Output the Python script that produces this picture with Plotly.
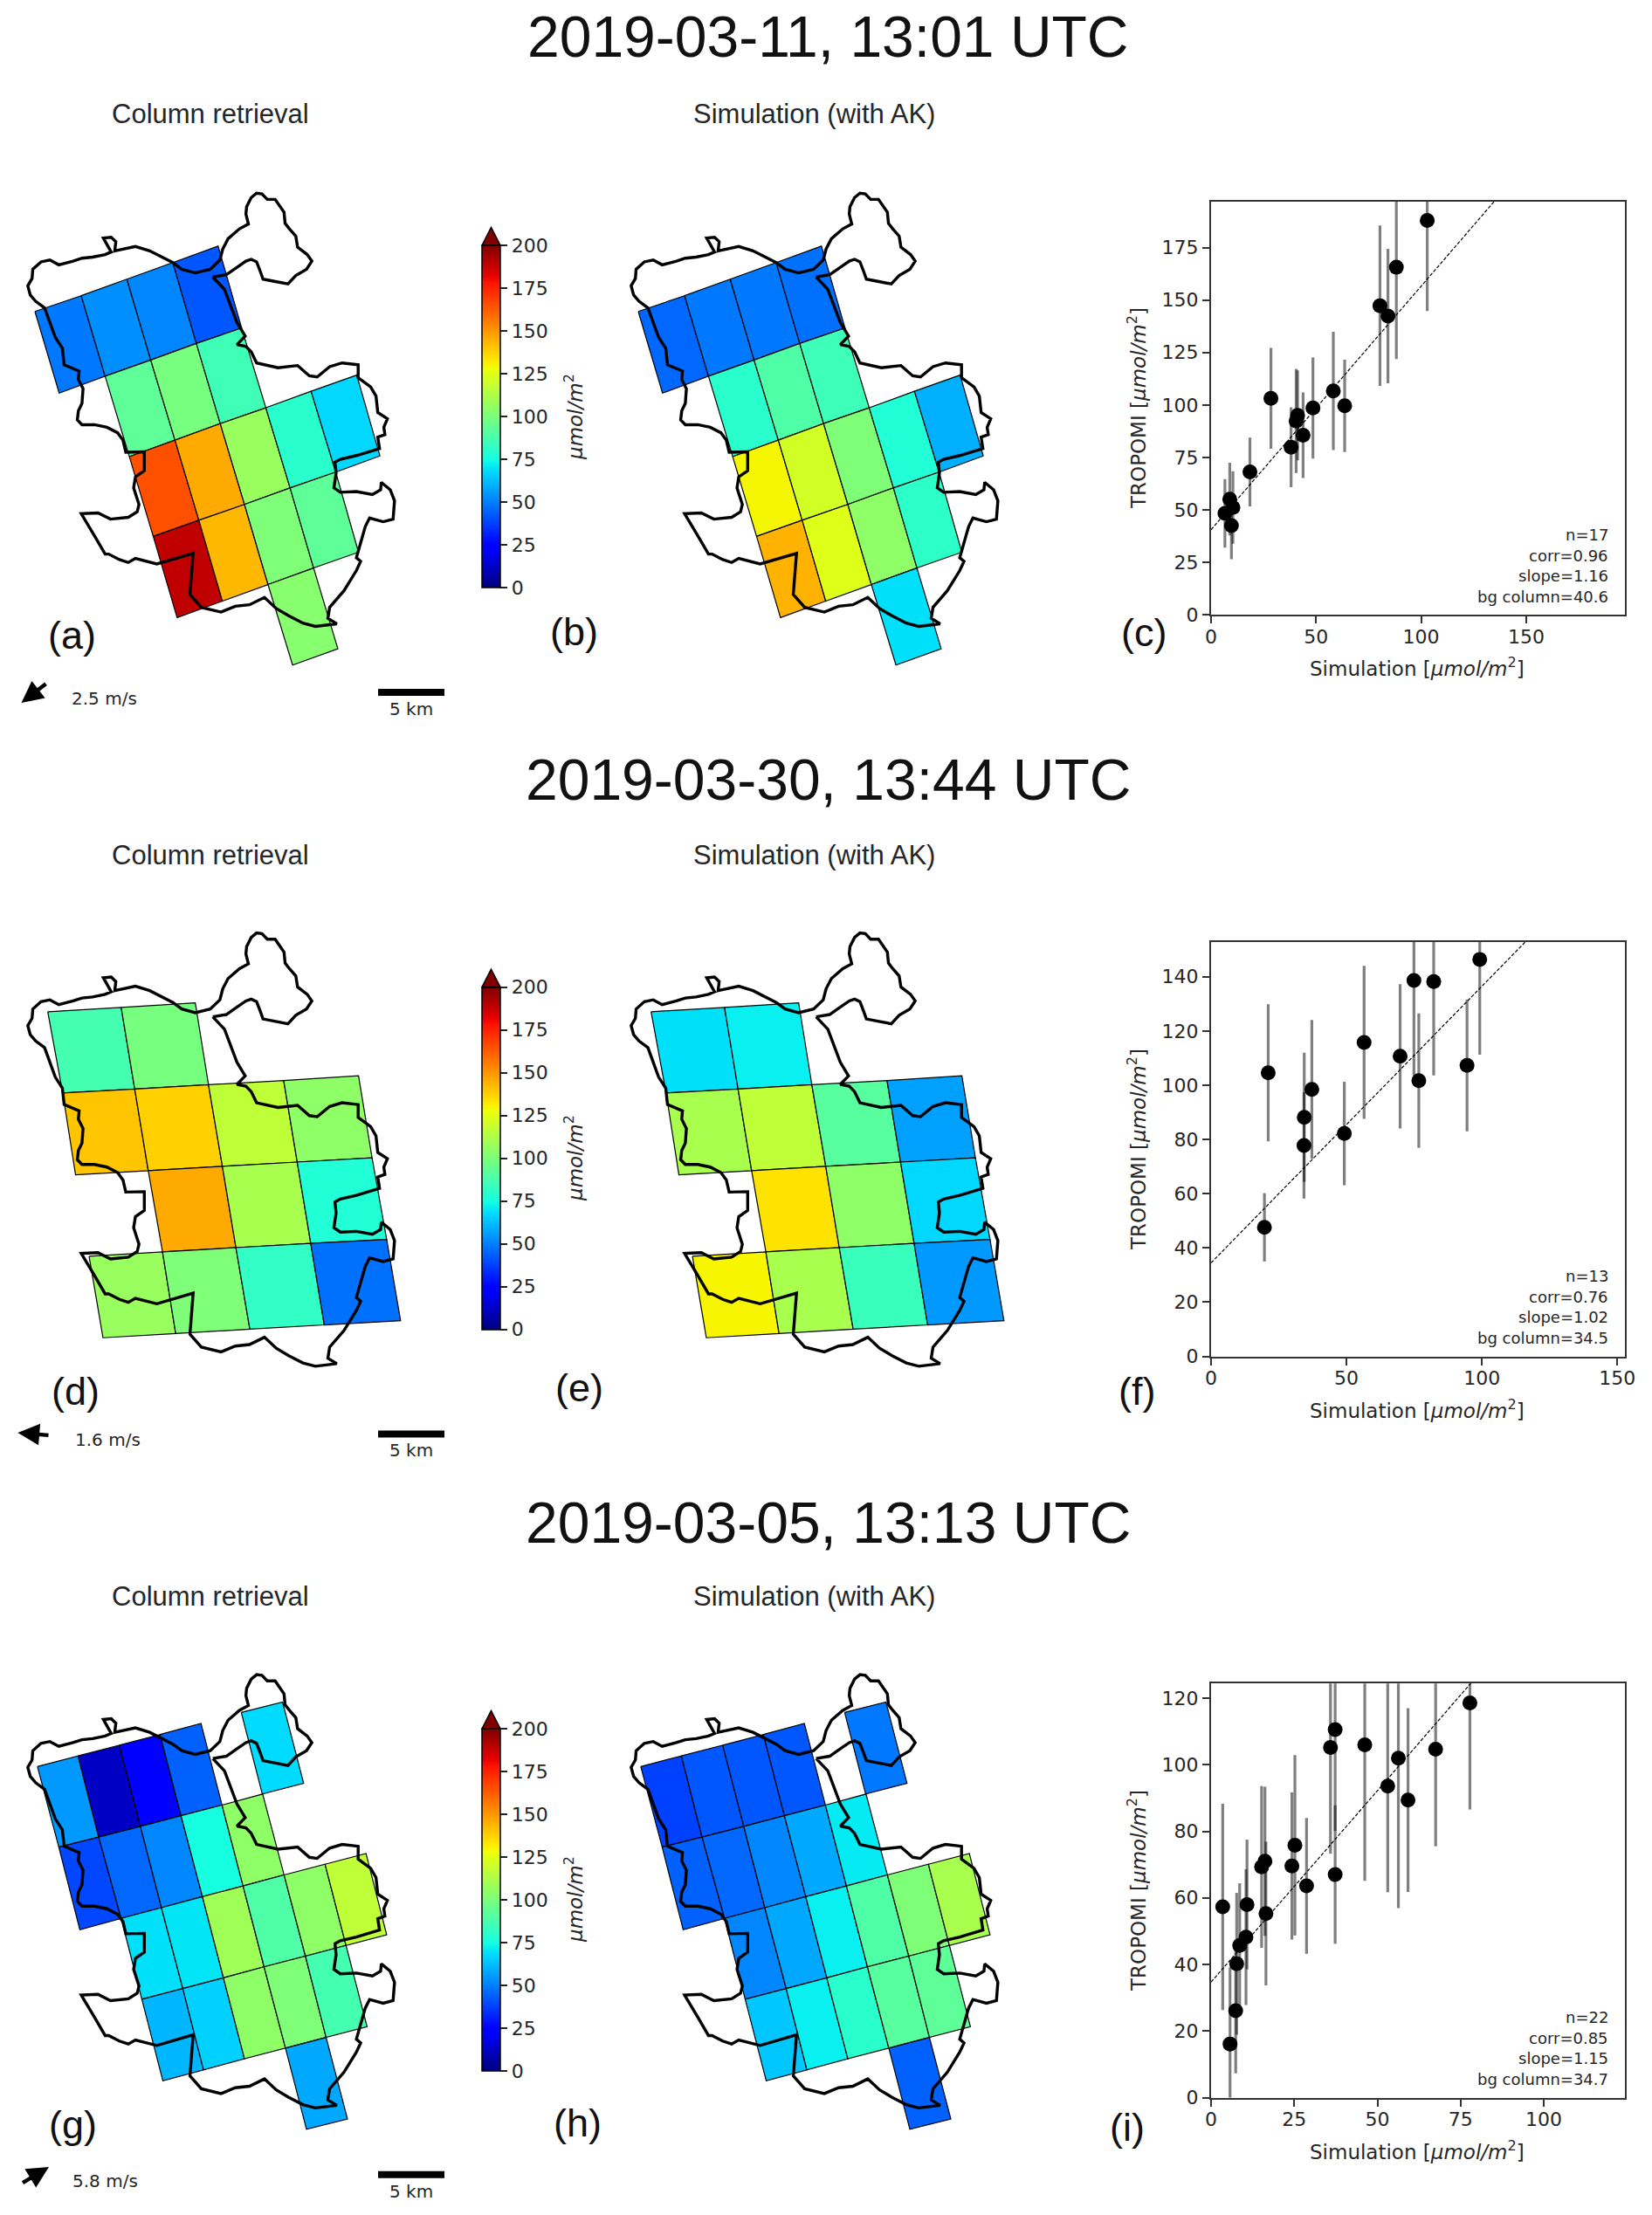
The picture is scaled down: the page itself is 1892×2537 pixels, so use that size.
import plotly.graph_objects as go
from plotly.colors import sample_colorscale

WIDTH = 1892
HEIGHT = 2537

# jet colormap, value range 0-200
JET_STOPS = [0, 0.11, 0.125, 0.34, 0.35, 0.375, 0.64, 0.65, 0.66, 0.89, 0.91, 1]
JET_COLORS = ['rgb(0,0,128)', 'rgb(0,0,255)', 'rgb(0,0,255)', 'rgb(0,219,255)', 'rgb(0,230,247)', 'rgb(20,255,226)',
              'rgb(238,255,8)', 'rgb(247,245,0)', 'rgb(255,236,0)', 'rgb(255,19,0)', 'rgb(232,0,0)', 'rgb(128,0,0)']

# catchment outline, map units (2.45 units = 1 px, 186 units = 5 km)
OUTLINE_X = [597, 635, 660, 690, 705, 720, 730, 738, 770, 808, 830, 860, 875, 862, 835, 830, 812, 800, 797, 778,
             772, 750, 735, 720, 705, 692, 690, 697, 672, 640, 625, 617, 590, 548, 510, 485, 455, 420, 380, 350,
             322, 325, 312, 290, 305, 312, 295, 260, 230, 205, 165, 140, 115, 92, 90, 78, 85, 100, 125, 140,
             155, 175, 180, 222, 220, 233, 230, 220, 217, 230, 265, 300, 330, 345, 353, 405, 405, 380, 375, 390,
             385, 360, 310, 275, 228, 265, 295, 305, 335, 360, 380, 440, 542, 533, 565, 620, 660, 700, 742, 775,
             810, 850, 885, 945, 920, 925, 965, 1000, 1012, 1000, 1015, 1025, 1037, 1075, 1103, 1107, 1095, 1070, 1068, 1045,
             1000, 955, 937, 943, 940, 955, 1000, 1065, 1060, 1080, 1077, 1087, 1060, 1055, 1040, 1005, 1005, 960, 925, 890,
             868, 835, 780, 720, 705, 690, 665, 688, 665, 650, 630, 597]
OUTLINE_Y = [326, 320, 303, 283, 278, 285, 310, 332, 338, 345, 322, 305, 283, 265, 245, 215, 195, 180, 150, 125,
             115, 115, 100, 98, 110, 135, 155, 182, 195, 222, 250, 280, 305, 315, 305, 287, 272, 255, 243, 250,
             255, 230, 218, 220, 245, 258, 265, 272, 275, 283, 293, 280, 285, 305, 330, 350, 375, 392, 410, 450,
             490, 520, 565, 582, 605, 630, 670, 690, 715, 728, 728, 735, 750, 770, 803, 802, 853, 870, 900, 945,
             965, 980, 985, 968, 970, 1030, 1080, 1080, 1095, 1103, 1092, 1107, 1078, 1190, 1225, 1238, 1222, 1218, 1198, 1228,
             1248, 1268, 1277, 1270, 1255, 1225, 1180, 1125, 1100, 1090, 1040, 1005, 982, 992, 985, 935, 905, 885, 905, 918,
             910, 912, 900, 860, 830, 822, 812, 793, 762, 755, 735, 712, 695, 650, 625, 600, 565, 560, 570, 598,
             595, 567, 573, 560, 530, 515, 510, 487, 450, 410, 360, 326]

# pixel grid corners per scene: rows of (x, y)
GRID_1 = [
    [(98, 420), (228, 377), (356, 332), (485, 287), (612, 242)],
    [(166, 642), (295, 596), (423, 552), (551, 507), (678, 465)],
    [(363, 815), (491, 770), (618, 725), (746, 682), (873, 637), (1001, 593)],
    [(430, 1032), (558, 988), (686, 945), (814, 900), (942, 857), (1066, 813)],
    [(497, 1253), (624, 1208), (752, 1163), (880, 1118), (1006, 1075)],
    [(821, 1382), (948, 1338)],
]
GRID_2 = [
    [(134, 291), (340, 279), (548, 266)],
    [(176, 519), (378, 508), (585, 496), (796, 484), (1006, 471)],
    [(212, 749), (416, 737), (624, 725), (834, 713), (1044, 701)],
    [(250, 977), (456, 965), (662, 953), (872, 941), (1085, 930)],
    [(289, 1206), (493, 1194), (701, 1182), (910, 1170), (1124, 1158)],
]
GRID_3 = [
    [(105, 328), (219, 298), (335, 268), (449, 238), (564, 207)],
    [(165, 554), (277, 526), (394, 496), (508, 466), (623, 436), (737, 405)],
    [(224, 786), (340, 754), (453, 724), (568, 693), (682, 663), (797, 632), (912, 602), (1027, 572)],
    [(398, 981), (513, 951), (627, 921), (741, 890), (857, 860), (971, 830), (1085, 800)],
    [(457, 1210), (571, 1179), (686, 1148), (801, 1118), (915, 1088), (1030, 1058)],
    [(860, 1346), (975, 1317)],
]
STRIP_3 = [(677, 176), (793, 147), (852, 375), (736, 405)]

# each cell: upper row, upper col, lower col (lower row = upper row + 1)
CELLS_1 = [(0, 0, 0), (0, 1, 1), (0, 2, 2), (0, 3, 3),
           (1, 1, 0), (1, 2, 1), (1, 3, 2),
           (2, 0, 0), (2, 1, 1), (2, 2, 2), (2, 3, 3), (2, 4, 4),
           (3, 0, 0), (3, 1, 1), (3, 2, 2), (3, 3, 3),
           (4, 2, 0)]
CELLS_2 = [(0, 0, 0), (0, 1, 1),
           (1, 0, 0), (1, 1, 1), (1, 2, 2), (1, 3, 3),
           (2, 1, 1), (2, 2, 2), (2, 3, 3),
           (3, 0, 0), (3, 1, 1), (3, 2, 2), (3, 3, 3)]
CELLS_3 = [(0, 0, 0), (0, 1, 1), (0, 2, 2), (0, 3, 3),
           (1, 0, 0), (1, 1, 1), (1, 2, 2), (1, 3, 3), (1, 4, 4),
           (2, 1, 0), (2, 2, 1), (2, 3, 2), (2, 4, 3), (2, 5, 4), (2, 6, 5),
           (3, 0, 0), (3, 1, 1), (3, 2, 2), (3, 3, 3), (3, 4, 4),
           (4, 3, 0)]

RETRIEVAL_1 = [48.5, 53, 51.6, 42, 93, 99, 85.5, 165, 146, 107, 80, 67.5, 189, 143, 101, 93, 103]
SIMULATION_1 = [45.5, 48.5, 48.5, 47, 80, 89, 85, 129.6, 121, 101, 78, 59.5, 144, 124, 105, 81, 69]
RETRIEVAL_2 = [87, 99, 140, 138, 116.5, 105, 146, 111, 78, 107, 101, 82, 47]
SIMULATION_2 = [69, 72, 111, 116.5, 91.5, 56.5, 134, 105, 67.5, 130, 111, 84, 55]
RETRIEVAL_3 = [55, 12, 24, 44, 39, 45.5, 51.6, 75.6, 105, 69, 70, 109, 89, 105, 116.5, 61, 66, 105, 101, 87, 58]
SIMULATION_3 = [37.5, 42, 42, 42, 44, 45.5, 51.6, 58, 71, 51.6, 58, 72, 89, 101, 111, 64, 72, 80, 91.5, 93, 44]
STRIP_RETRIEVAL_3 = 68
STRIP_SIMULATION_3 = 48.5

# scatter panels
SIM_C = [6.6, 8.9, 10.4, 9.7, 18.5, 28.5, 38.1, 40.5, 41.2, 43.8, 48.5, 58.2, 63.6, 80.4, 84.2, 88.2, 102.9]
TROPOMI_C = [48.4, 55.2, 51.2, 42.6, 68.1, 103.2, 79.9, 92.4, 95.1, 85.6, 98.6, 106.7, 99.6, 147.3, 142.4, 165.6, 187.9]
ERR_C = [16.3, 17.3, 17.3, 16, 16.4, 24, 19, 24.8, 21.4, 20.4, 24.1, 28.2, 22, 38.2, 32, 43.7, 43.1]
SIM_F = [19.7, 21.1, 34.3, 34.4, 37.2, 49.2, 56.5, 69.8, 74.9, 76.7, 82.2, 94.5, 99.2]
TROPOMI_F = [47.6, 104.6, 77.8, 88.2, 98.5, 82.2, 115.8, 110.7, 138.6, 101.7, 138.2, 107.3, 146.4]
ERR_F = [12.6, 25.3, 19.6, 23.8, 25.6, 19.1, 28.2, 26.6, 35, 24.8, 34.6, 24.3, 35.1]
SIM_I = [3.5, 5.7, 7.4, 7.7, 8.6, 10.5, 10.8, 15.2, 16.2, 16.5, 24.3, 25.2, 28.7, 35.9, 37.3, 37.3, 46.2, 53.1, 56.3, 59.2, 67.5, 77.8]
TROPOMI_I = [57.3, 16.1, 26.1, 40.2, 45.7, 48.2, 58, 69.3, 71, 55.3, 69.6, 75.8, 63.6, 105.2, 110.6, 67, 106, 93.6, 102, 89.4, 104.7, 118.6]
ERR_I = [31, 23, 18.8, 21.3, 18.7, 20.4, 19.5, 24.3, 22.4, 21.6, 22.1, 27.1, 20.4, 31.9, 30.5, 20.8, 40.9, 31.9, 45.1, 27.6, 29.2, 32]

TITLES = ['2019-03-11, 13:01 UTC', '2019-03-30, 13:44 UTC', '2019-03-05, 13:13 UTC']
STATS = [['n=17', 'corr=0.96', 'slope=1.16', 'bg column=40.6'],
         ['n=13', 'corr=0.76', 'slope=1.02', 'bg column=34.5'],
         ['n=22', 'corr=0.85', 'slope=1.15', 'bg column=34.7']]
SLOPES = [1.16, 1.02, 1.15]
INTERCEPTS = [40.6, 34.5, 34.7]
WIND_LABELS = ['2.5 m/s', '1.6 m/s', '5.8 m/s']
CBAR_TICKS = [0, 25, 50, 75, 100, 125, 150, 175, 200]

TEXT = '#262626'
JET = [[s, c] for s, c in zip(JET_STOPS, JET_COLORS)]
UNIT = '<i>\u03bcmol/m</i><sup>2</sup>'
ax_count = 0


def px_x(v):
    return v / WIDTH


def px_y(v):
    return 1 - v / HEIGHT


def note(text, x, y, size=23, font='DejaVu Sans', anchor='center', angle=0, color=TEXT):
    return dict(text=text, x=px_x(x), y=px_y(y), xref='paper', yref='paper', showarrow=False, xanchor=anchor,
                yanchor='middle', textangle=angle, font=dict(family=font, size=size, color=color))


def new_axes(left, right, top, bottom):
    global ax_count
    ax_count += 1
    suffix = '' if ax_count == 1 else str(ax_count)
    layout_x = dict(domain=[px_x(left), px_x(right)], anchor='y' + suffix)
    layout_y = dict(domain=[px_y(bottom), px_y(top)], anchor='x' + suffix)
    return suffix, layout_x, layout_y


def cell_polygons(grid, cells):
    polys = []
    for row, col_top, col_bot in cells:
        polys.append([grid[row][col_top], grid[row][col_top + 1], grid[row + 1][col_bot + 1], grid[row + 1][col_bot]])
    return polys


def add_map(fig, left, top, polys, values, outline_y, cbar=None):
    suffix, xa, ya = new_axes(left, left + 600, top, top + 640)
    xa.update(range=[0, 1470], visible=False, fixedrange=True)
    ya.update(range=[1568, 0], visible=False, fixedrange=True)
    fig.update_layout({'xaxis' + suffix: xa, 'yaxis' + suffix: ya})

    # cell centres carry the value and the colour bar, hidden below the fills
    centre_x = [sum(p[0] for p in poly) / 4 for poly in polys]
    centre_y = [sum(p[1] for p in poly) / 4 for poly in polys]
    marker = dict(size=1, color=values, colorscale=JET, cmin=0, cmax=200, showscale=False)
    if cbar is not None:
        marker.update(showscale=True, colorbar=dict(
            thickness=21, thicknessmode='pixels', len=392, lenmode='pixels',
            x=px_x(552), xanchor='left', xpad=0, y=px_y(cbar), yanchor='top', ypad=0,
            outlinewidth=1.5, outlinecolor='black', ticks='outside', ticklen=8, tickwidth=1.5,
            tickcolor='#222222', tickvals=CBAR_TICKS, tickfont=dict(family='DejaVu Sans', size=22, color=TEXT)))
    fig.add_trace(go.Scatter(x=centre_x, y=centre_y, mode='markers', marker=marker, showlegend=False,
                             xaxis='x' + suffix, yaxis='y' + suffix))

    for poly, val in zip(polys, values):
        xs = [p[0] for p in poly] + [poly[0][0]]
        ys = [p[1] for p in poly] + [poly[0][1]]
        color = sample_colorscale(JET, val / 200)[0]
        fig.add_trace(go.Scatter(x=xs, y=ys, mode='lines', fill='toself', fillcolor=color, showlegend=False,
                                 line=dict(color='black', width=1.2), hoverinfo='skip',
                                 xaxis='x' + suffix, yaxis='y' + suffix))

    fig.add_trace(go.Scatter(x=OUTLINE_X, y=outline_y, mode='lines', showlegend=False, hoverinfo='skip',
                             line=dict(color='black', width=3.4), xaxis='x' + suffix, yaxis='y' + suffix))
    return suffix


def add_scatter(fig, top, bottom, x_max, x_ticks, y_ticks, sim, obs, err, slope, intercept):
    suffix, xa, ya = new_axes(1387, 1861, top, bottom)
    common = dict(showline=True, linewidth=2, linecolor='#333333', mirror=True, showgrid=False, zeroline=False,
                  ticks='outside', ticklen=8, tickwidth=1.6, tickcolor='#333333', fixedrange=True,
                  tickfont=dict(family='DejaVu Sans', size=22, color=TEXT))
    xa.update(common, range=[0, x_max], tickvals=x_ticks, ticklabelstandoff=-4)
    ya.update(common, range=[0, x_max], tickvals=y_ticks)
    fig.update_layout({'xaxis' + suffix: xa, 'yaxis' + suffix: ya})
    fig.add_trace(go.Scatter(x=[0, x_max], y=[intercept, intercept + slope * x_max], mode='lines', showlegend=False,
                             line=dict(color='black', width=1.2, dash='4px,2px'), xaxis='x' + suffix, yaxis='y' + suffix))
    fig.add_trace(go.Scatter(x=sim, y=obs, mode='markers', showlegend=False,
                             marker=dict(color='black', size=17),
                             error_y=dict(type='data', array=err, color='rgba(0,0,0,0.5)', thickness=3.2, width=0),
                             xaxis='x' + suffix, yaxis='y' + suffix))


def to_scene_y(v):
    # scene 1 was read on a slightly different vertical scale
    return v * 660 / 640 - 31


fig = go.Figure()

OUTLINE_MAP_Y = [to_scene_y(v) for v in OUTLINE_Y]
GRID_1_MAP = [[(x, to_scene_y(y)) for x, y in row] for row in GRID_1]
polys_1 = cell_polygons(GRID_1_MAP, CELLS_1)
polys_2 = cell_polygons(GRID_2, CELLS_2)
polys_3 = [STRIP_3] + cell_polygons(GRID_3, CELLS_3)

MAP_TOPS = [192.65, 1040, 1889.5]
CBAR_TOPS = [281, 1130.6, 1980]
SCENES = [(polys_1, RETRIEVAL_1, SIMULATION_1),
          (polys_2, RETRIEVAL_2, SIMULATION_2),
          (polys_3, [STRIP_RETRIEVAL_3] + RETRIEVAL_3, [STRIP_SIMULATION_3] + SIMULATION_3)]

for i, (polys, retrieval, simulation) in enumerate(SCENES):
    add_map(fig, 0, MAP_TOPS[i], polys, retrieval, OUTLINE_MAP_Y, cbar=CBAR_TOPS[i])
    add_map(fig, 691, MAP_TOPS[i], polys, simulation, OUTLINE_MAP_Y)

add_scatter(fig, 230.6, 704.4, 197, [0, 50, 100, 150], [0, 25, 50, 75, 100, 125, 150, 175],
            SIM_C, TROPOMI_C, ERR_C, SLOPES[0], INTERCEPTS[0])
add_scatter(fig, 1079, 1553.6, 152.8, [0, 50, 100, 150], [0, 20, 40, 60, 80, 100, 120, 140],
            SIM_F, TROPOMI_F, ERR_F, SLOPES[1], INTERCEPTS[1])
add_scatter(fig, 1928.3, 2402.5, 124.4, [0, 25, 50, 75, 100], [0, 20, 40, 60, 80, 100, 120],
            SIM_I, TROPOMI_I, ERR_I, SLOPES[2], INTERCEPTS[2])

notes = []
shapes = []
ROW_TOPS = [0, 849, 1698]
TITLE_Y = [42, 893, 1744]
for i, top in enumerate(ROW_TOPS):
    notes.append(note(TITLES[i], 949, TITLE_Y[i], size=66, font='Liberation Sans', color='#111111'))
    notes.append(note('Column retrieval', 241, 131 + top, size=31, font='Liberation Sans'))
    notes.append(note('Simulation (with AK)', 932, 131 + top, size=31, font='Liberation Sans'))
    notes.append(note(UNIT, 657, 478 + top, angle=-90))
    notes.append(note('Simulation [' + UNIT + ']', 1623, 764.5 + top))
    notes.append(note('TROPOMI [' + UNIT + ']', 1302, 468 + top, angle=-90))
    for j, line in enumerate(STATS[i]):
        notes.append(note(line, 1844, 612.5 + top + 23.6 * j, size=18, anchor='right'))
    shapes.append(dict(type='path', xref='paper', yref='paper', fillcolor='#800000',
                       line=dict(color='black', width=1.5),
                       path='M %f %f L %f %f L %f %f Z' % (px_x(552), px_y(CBAR_TOPS[i]), px_x(562.5),
                                                           px_y(CBAR_TOPS[i] - 20.5), px_x(573), px_y(CBAR_TOPS[i]))))

PANEL_LABELS = ['(a)', '(b)', '(c)', '(d)', '(e)', '(f)', '(g)', '(h)', '(i)']
LABEL_X = [82, 657, 1310, 86.5, 663, 1302, 83, 661, 1291]
LABEL_Y = [727, 723, 725, 1593, 1589, 1593, 2433, 2431, 2436]
for lab, x, y in zip(PANEL_LABELS, LABEL_X, LABEL_Y):
    notes.append(note(lab, x, y, size=45, font='Liberation Sans', color='#111111'))

# wind arrows: tail and head, then label
WIND_TAIL = [(54, 782), (57, 1644), (24.5, 2501)]
WIND_HEAD = [(24.5, 805), (20.4, 1641), (56, 2482)]
WIND_TEXT = [(80, 799.5), (83.7, 1649), (81, 2498)]
for tail, head, pos, lab in zip(WIND_TAIL, WIND_HEAD, WIND_TEXT, WIND_LABELS):
    notes.append(dict(x=px_x(head[0]), y=px_y(head[1]), ax=tail[0] - head[0], ay=tail[1] - head[1], xref='paper',
                      yref='paper', axref='pixel', ayref='pixel', text='', showarrow=True, arrowhead=2, arrowsize=1.1,
                      arrowwidth=4.5, arrowcolor='black', standoff=0))
    notes.append(note(lab, pos[0], pos[1], size=20, anchor='left'))

# 5 km scale bars are drawn on the map axes of the retrieval panels (186 map units)
SCALE_Y = [1471, 1476, 1473]
SCALE_LABEL_Y = [812, 1661, 2509.6]
for i in range(3):
    suffix = '' if i == 0 else str(2 * i + 1)
    fig.add_trace(go.Scatter(x=[1061, 1247], y=[SCALE_Y[i], SCALE_Y[i]], mode='lines', showlegend=False,
                             line=dict(color='black', width=8), xaxis='x' + suffix, yaxis='y' + suffix))
    notes.append(note('5 km', 471, SCALE_LABEL_Y[i], size=20))

fig.update_layout(width=WIDTH, height=HEIGHT, margin=dict(l=0, r=0, t=0, b=0, autoexpand=False), showlegend=False,
                  paper_bgcolor='white', plot_bgcolor='rgba(0,0,0,0)', annotations=notes, shapes=shapes)

# the page's default body margin would shift the figure by 8 px
fig.write_html("out.html", config={'displayModeBar': False}, post_script="document.body.style.margin='0';")
